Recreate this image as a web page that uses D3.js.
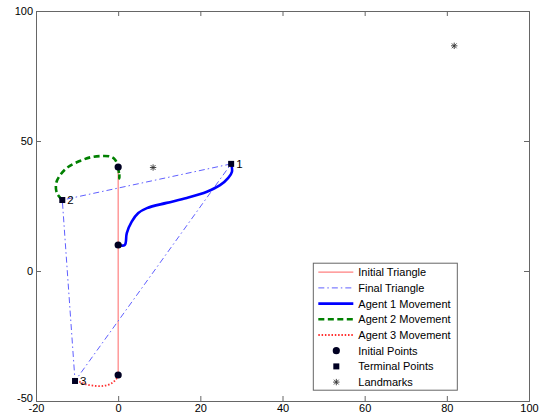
<!DOCTYPE html>
<html>
<head>
<meta charset="utf-8">
<script src="https://cdn.jsdelivr.net/npm/d3@7"></script>
<style>
  body { margin: 0; background: #fff; }
  svg { font-family: "Liberation Sans", Arial, sans-serif; }
  .axis path, .axis line { stroke: #666; }
  .axis text { fill: #000; font-size: 11px; }
</style>
</head>
<body>
<div id="chart"></div>
<script>
// starting positions of the three agents
var initialPoints = [[0, 40], [0, 10], [0, -40]];
// where each agent ended up (agent 1, 2, 3)
var terminalPoints = [[27.5, 41.2], [-13.6, 27.3], [-10.5, -42.3]];
var terminalLabels = ['1', '2', '3'];
var landmarks = [[8.5, 39.8], [81.8, 86.6]];

var agent1Path = [[0, 10], [1.6, 10], [2.1, 14.6], [3.3, 19], [4.9, 22.3], [7, 24.2],
  [11.8, 26.2], [16.7, 28.1], [21.6, 30.5], [24.8, 33], [26.8, 35.8], [27.7, 38.2], [27.5, 41.2]];
var agent2Path = [[0, 40], [0.2, 37.5], [0.3, 35.6], [0.2, 38.5], [-0.7, 42.7], [-1.9, 44],
  [-4.4, 44.2], [-6.8, 43.7], [-9.2, 42.4], [-12.1, 40.1], [-14.1, 36.9], [-15.1, 33.7],
  [-14.9, 29.9], [-13.6, 27.3]];
var agent3Path = [[0, -40], [-0.3, -41.2], [-1.5, -43.1], [-3.6, -44.2], [-6.1, -44.1],
  [-8, -43.5], [-9.2, -42.7], [-10.5, -42.3]];

var xTicks = [-20, 0, 20, 40, 60, 80, 100];
var yTicks = [-50, 0, 50, 100];
var legendLabels = ['Initial Triangle', 'Final Triangle', 'Agent 1 Movement', 'Agent 2 Movement',
  'Agent 3 Movement', 'Initial Points', 'Terminal Points', 'Landmarks'];

var margin = { left: 36, right: 23, top: 11, bottom: 15 };
var svgWidth = 552;
var svgHeight = 416;
var width = svgWidth - margin.left - margin.right;
var height = svgHeight - margin.top - margin.bottom;

var svg = d3.select('#chart').append('svg')
  .attr('width', svgWidth)
  .attr('height', svgHeight);
svg.append('rect')
  .attr('width', svgWidth)
  .attr('height', svgHeight)
  .attr('fill', '#fff');
svg = svg.append('g')
  .attr('transform', 'translate(' + margin.left + ', ' + margin.top + ')');

var xScale = d3.scaleLinear()
  .range([0, width])
  .domain([-20, 100]);
var yScale = d3.scaleLinear()
  .range([height, 0])
  .domain([-50, 100]);

var fmt = function (d) { return String(d); };

svg.append('g')
  .attr('class', 'axis')
  .attr('transform', 'translate(0, ' + height + ')')
  .call(d3.axisBottom(xScale).tickValues(xTicks).tickSize(-5).tickPadding(3).tickFormat(fmt));
var yAxisG = svg.append('g')
  .attr('class', 'axis')
  .call(d3.axisLeft(yScale).tickValues(yTicks).tickSize(-5).tickPadding(3).tickFormat(fmt));
// lift the bottom y label a little so it sits above the -20 label
yAxisG.selectAll('.tick text')
  .filter(function (d) { return d === -50; })
  .attr('dy', '0.05em');
svg.append('g')
  .attr('class', 'axis')
  .call(d3.axisTop(xScale).tickValues(xTicks).tickSize(-5).tickFormat(''));
svg.append('g')
  .attr('class', 'axis')
  .attr('transform', 'translate(' + width + ', 0)')
  .call(d3.axisRight(yScale).tickValues(yTicks).tickSize(-5).tickFormat(''));
svg.selectAll('.axis .domain').attr('stroke', '#666');

var line = d3.line()
  .x(function (d) { return xScale(d[0]); })
  .y(function (d) { return yScale(d[1]); });
var smooth = d3.line()
  .x(function (d) { return xScale(d[0]); })
  .y(function (d) { return yScale(d[1]); })
  .curve(d3.curveCatmullRom.alpha(0.5));

var styles = {
  initial: { stroke: '#ff8080', width: 1.2, dash: null },
  final: { stroke: '#6060ff', width: 1, dash: '6,3,1.5,3' },
  agent1: { stroke: '#0000ff', width: 2.6, dash: null },
  agent2: { stroke: '#008000', width: 2.6, dash: '6,3.5' },
  agent3: { stroke: '#ff3030', width: 1.8, dash: '1.5,1.8' }
};

function styled(sel, s) {
  sel.attr('fill', 'none')
    .attr('stroke', s.stroke)
    .attr('stroke-width', s.width)
    .attr('stroke-dasharray', s.dash);
  return sel;
}

// initial triangle (all on x = 0)
styled(svg.append('path').datum(initialPoints.concat([initialPoints[0]])).attr('d', line), styles.initial);
// final triangle
styled(svg.append('path').datum(terminalPoints.concat([terminalPoints[0]])).attr('d', line), styles.final);

styled(svg.append('path').datum(agent1Path).attr('d', smooth), styles.agent1);
styled(svg.append('path').datum(agent2Path).attr('d', smooth), styles.agent2);
styled(svg.append('path').datum(agent3Path).attr('d', smooth), styles.agent3);

var markerFill = '#000022';

function drawCircle(g, cx, cy) {
  g.append('circle').attr('cx', cx).attr('cy', cy).attr('r', 3.6).attr('fill', markerFill);
}
function drawSquare(g, cx, cy) {
  g.append('rect').attr('x', cx - 3).attr('y', cy - 3).attr('width', 6).attr('height', 6)
    .attr('fill', markerFill);
}
function drawStar(g, cx, cy) {
  var r = 3.2, p = d3.path();
  p.moveTo(cx - r, cy); p.lineTo(cx + r, cy);
  p.moveTo(cx, cy - r); p.lineTo(cx, cy + r);
  p.moveTo(cx - r * 0.75, cy - r * 0.75); p.lineTo(cx + r * 0.75, cy + r * 0.75);
  p.moveTo(cx - r * 0.75, cy + r * 0.75); p.lineTo(cx + r * 0.75, cy - r * 0.75);
  g.append('path').attr('d', p.toString()).attr('stroke', '#333').attr('stroke-width', 0.9)
    .attr('fill', 'none');
}

initialPoints.forEach(function (d) { drawCircle(svg, xScale(d[0]), yScale(d[1])); });
terminalPoints.forEach(function (d, i) {
  drawSquare(svg, xScale(d[0]), yScale(d[1]));
  svg.append('text')
    .attr('x', xScale(d[0]) + 5)
    .attr('y', yScale(d[1]) + 4)
    .attr('font-size', 11.5)
    .text(terminalLabels[i]);
});
landmarks.forEach(function (d) { drawStar(svg, xScale(d[0]), yScale(d[1])); });

// legend
var legend = svg.append('g')
  .attr('transform', 'translate(' + (xScale(47.5)) + ', ' + (yScale(3)) + ')');
var legendW = 144, legendH = 127, rowH = 15.7;
legend.append('rect')
  .attr('width', legendW)
  .attr('height', legendH)
  .attr('fill', '#fff')
  .attr('stroke', '#666')
  .attr('stroke-width', 1);

var lineStyles = [styles.initial, styles.final, styles.agent1, styles.agent2, styles.agent3];
legendLabels.forEach(function (label, i) {
  var y = 9 + i * rowH;
  if (i < 5) {
    styled(legend.append('line').attr('x1', 5).attr('x2', 40).attr('y1', y).attr('y2', y), lineStyles[i]);
  } else if (i === 5) {
    drawCircle(legend, 23, y);
  } else if (i === 6) {
    drawSquare(legend, 23, y);
  } else {
    drawStar(legend, 23, y);
  }
  legend.append('text')
    .attr('x', 45)
    .attr('y', y + 4)
    .attr('font-size', 11)
    .text(label);
});
</script>
</body>
</html>
